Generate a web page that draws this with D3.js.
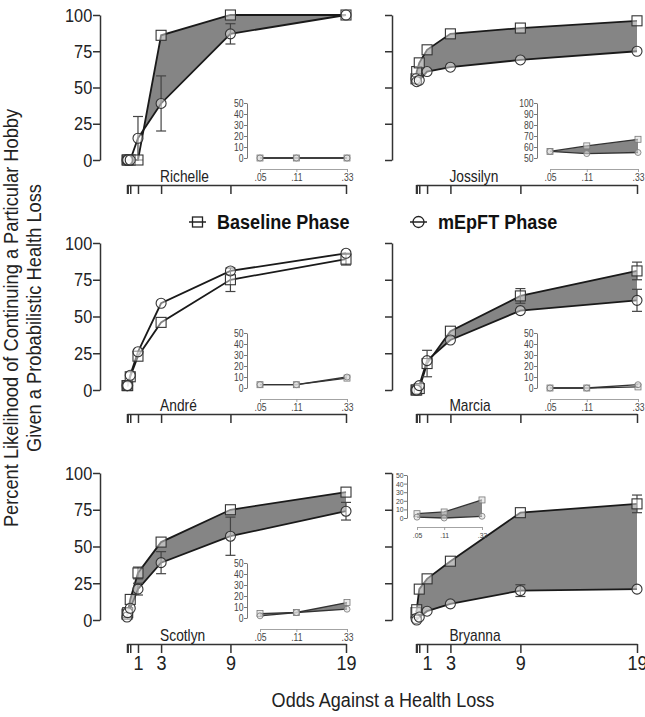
<!DOCTYPE html>
<html>
<head>
<meta charset="utf-8">
<script src="https://cdn.jsdelivr.net/npm/d3@7"></script>
<style>
  body { margin: 0; background: #fff; }
  svg { display: block; font-family: "Liberation Sans", Arial, Helvetica, sans-serif; }
</style>
</head>
<body>
<svg id="chart" width="645" height="717"></svg>
<script>
// odds against a health loss (x values)
const odds = [0.05, 0.11, 0.33, 1, 3, 9, 19]
const oddsTickLabels = ["1", "3", "9", "19"]
const insetOdds = [0.05, 0.11, 0.33]
const insetOddsLabels = [".05", ".11", ".33"]
const yTicks = [0, 25, 50, 75, 100]

const names = ["Richelle", "Jossilyn", "André", "Marcia", "Scotlyn", "Bryanna"]

// percent likelihood, baseline phase / mEpFT phase
const richelleBaseline = [0, 0, 0, 0, 86, 100, 100]
const richelleMepft    = [0, 0, 0, 15, 39, 87, 100]
const richelleBaseErr  = [0, 0, 0, 0, 0, 0, 0]
const richelleMepftErr = [0, 0, 0, 15, 19, 7, 0]

const jossilynBaseline = [56, 61, 67, 76, 87, 91, 96]
const jossilynMepft    = [56, 54, 55, 61, 64, 69, 75]
const jossilynBaseErr  = [0, 0, 0, 0, 0, 0, 0]
const jossilynMepftErr = [0, 0, 0, 0, 0, 0, 0]

const andreBaseline = [3, 3, 9, 23, 46, 75, 89]
const andreMepft    = [3, 3, 10, 26, 59, 81, 93]
const andreBaseErr  = [0, 0, 0, 0, 0, 8, 4]
const andreMepftErr = [0, 0, 0, 0, 0, 0, 0]

const marciaBaseline = [0, 0, 1, 18, 40, 64, 81]
const marciaMepft    = [0, 0, 3, 20, 34, 54, 61]
const marciaBaseErr  = [0, 0, 0, 9, 0, 5, 6]
const marciaMepftErr = [0, 0, 0, 0, 0, 0, 7.5]

const scotlynBaseline = [4, 5, 14, 32, 53, 75, 87]
const scotlynMepft    = [2, 5, 8, 21, 39, 57, 74]
const scotlynBaseErr  = [0, 0, 0, 4, 0, 0, 0]
const scotlynMepftErr = [0, 0, 0, 4, 7.5, 13, 6]

const bryannaBaseline = [5, 7, 21, 28, 40, 73, 79]
const bryannaMepft    = [1, 0, 2, 6, 11, 20, 21]
const bryannaBaseErr  = [0, 0, 0, 0, 0, 0, 6]
const bryannaMepftErr = [0, 0, 0, 0, 0, 4, 0]

const seriesData = [
    [richelleBaseline, richelleMepft, richelleBaseErr, richelleMepftErr],
    [jossilynBaseline, jossilynMepft, jossilynBaseErr, jossilynMepftErr],
    [andreBaseline, andreMepft, andreBaseErr, andreMepftErr],
    [marciaBaseline, marciaMepft, marciaBaseErr, marciaMepftErr],
    [scotlynBaseline, scotlynMepft, scotlynBaseErr, scotlynMepftErr],
    [bryannaBaseline, bryannaMepft, bryannaBaseErr, bryannaMepftErr]
]

// layout
const cols = [
    {axisX: 100, x0: 127, x1: 346, insetAxisX: 247, insetX0: 260, insetX1: 347},
    {axisX: 392, x0: 416, x1: 637, insetAxisX: 537, insetX0: 550, insetX1: 638}
]
const rows = [
    {top: 15, zero: 160, xAxisY: 185},
    {top: 243, zero: 390, xAxisY: 414},
    {top: 473, zero: 620, xAxisY: 644}
]

const svg = d3.select("#chart")
const fillGray = "#858585"
const ink = "#1a1a1a"
const squeeze = 0.86   // the original type is a condensed sans

// condensed text drawn at (x, y)
function label(parent, x, y, str, size, rotate = 0) {
    return parent.append("text")
        .attr("transform", `translate(${x},${y}) rotate(${rotate}) scale(${squeeze},1)`)
        .attr("font-size", size)
        .text(str)
}

function styleAxis(sel, fontSize) {
    sel.attr("font-family", null).attr("font-size", fontSize)
    sel.selectAll("path.domain").attr("stroke", "#333").attr("stroke-width", 1.5)
    sel.selectAll(".tick line").attr("stroke", "#333").attr("stroke-width", 1.5)
    sel.selectAll(".tick text").attr("fill", "#222").attr("transform", `scale(${squeeze},1)`)
}

function drawBand(g, xf, yf, pts, id, yLo, yHi) {
    // shade only where baseline lies above mEpFT
    g.append("clipPath").attr("id", id)
        .append("path")
        .attr("d", d3.area().x(d => xf(d.x)).y0(yLo).y1(d => yf(d.b))(pts))
    g.append("path")
        .attr("d", d3.area().x(d => xf(d.x)).y0(d => yf(d.m)).y1(yHi)(pts))
        .attr("fill", fillGray)
        .attr("clip-path", `url(#${id})`)
}

function drawPanel(i) {
    const col = cols[i % 2]
    const row = rows[Math.floor(i / 2)]
    const [base, mep, baseErr, mepErr] = seriesData[i]
    const g = svg.append("g")

    const x = d3.scaleLinear().domain([0.05, 19]).range([col.x0, col.x1])
    const y = d3.scaleLinear().domain([0, 100]).range([row.zero, row.top])

    // axes
    const yAxis = d3.axisLeft(y).tickValues(yTicks).tickSize(7).tickSizeOuter(0).tickPadding(2)
        .tickFormat(i % 2 === 0 ? d3.format("d") : "")
    g.append("g").attr("transform", `translate(${col.axisX},0)`).call(yAxis).call(styleAxis, 19)

    const bottomRow = Math.floor(i / 2) === 2
    const xAxis = d3.axisBottom(x).tickValues(odds).tickSize(9).tickSizeOuter(0).tickPadding(2)
        .tickFormat(d => bottomRow && oddsTickLabels.includes(String(d)) ? String(d) : "")
    g.append("g").attr("transform", `translate(0,${row.xAxisY})`).call(xAxis).call(styleAxis, 21)

    const pts = odds.map((o, k) => ({x: o, b: base[k], m: mep[k], be: baseErr[k], me: mepErr[k]}))

    drawBand(g, x, y, pts, "clip" + i, y(-50), y(150))

    const line = key => d3.line().x(d => x(d.x)).y(d => y(d[key]))
    g.append("path").attr("d", line("b")(pts)).attr("fill", "none").attr("stroke", ink).attr("stroke-width", 1.8)
    g.append("path").attr("d", line("m")(pts)).attr("fill", "none").attr("stroke", ink).attr("stroke-width", 1.8)

    // error bars
    const bars = []
    pts.forEach(d => {
        if (d.be > 0) bars.push({x: d.x, v: d.b, e: d.be})
        if (d.me > 0) bars.push({x: d.x, v: d.m, e: d.me})
    })
    const eb = g.append("g").attr("stroke", "#444").attr("stroke-width", 1.2)
    bars.forEach(d => {
        const cx = x(d.x)
        eb.append("line").attr("x1", cx).attr("x2", cx).attr("y1", y(d.v - d.e)).attr("y2", y(d.v + d.e))
        eb.append("line").attr("x1", cx - 5).attr("x2", cx + 5).attr("y1", y(d.v - d.e)).attr("y2", y(d.v - d.e))
        eb.append("line").attr("x1", cx - 5).attr("x2", cx + 5).attr("y1", y(d.v + d.e)).attr("y2", y(d.v + d.e))
    })

    // markers
    g.append("g").selectAll("rect").data(pts).enter().append("rect")
        .attr("x", d => x(d.x) - 5).attr("y", d => y(d.b) - 5)
        .attr("width", 10).attr("height", 10)
        .attr("fill", "#fff").attr("fill-opacity", 0.45)
        .attr("stroke", "#333").attr("stroke-width", 1.1)
    g.append("g").selectAll("circle").data(pts).enter().append("circle")
        .attr("cx", d => x(d.x)).attr("cy", d => y(d.m)).attr("r", 5)
        .attr("fill", "#fff").attr("fill-opacity", 0.45)
        .attr("stroke", "#333").attr("stroke-width", 1.1)

    // participant name
    label(g, x(3) - 1, row.xAxisY - 3, names[i], 16).attr("fill", "#222")

    // inset for the three smallest odds
    let inset
    if (i === 5) {
        inset = {axisX: 407, x0: 417, x1: 482, zero: 518, top: 475, axisY: 527, font: 8}
    } else {
        inset = {axisX: col.insetAxisX, x0: col.insetX0, x1: col.insetX1,
                 zero: row.zero - 2, top: row.zero - 57, axisY: row.zero + 9, font: 10}
    }
    drawInset(g, i, inset, pts.slice(0, 3), i === 1 ? [50, 100] : [0, 50])
}

function drawInset(g, i, s, pts, domain) {
    const x = d3.scaleLog().domain([0.05, 0.33]).range([s.x0, s.x1])
    const y = d3.scaleLinear().domain(domain).range([s.zero, s.top])

    const yAxis = d3.axisLeft(y).tickValues(d3.range(domain[0], domain[1] + 1, 10))
        .tickSize(3).tickSizeOuter(0).tickPadding(1).tickFormat(d3.format("d"))
    const ya = g.append("g").attr("transform", `translate(${s.axisX},0)`).call(yAxis)
    ya.attr("font-family", null).attr("font-size", s.font)
    ya.selectAll("path.domain, .tick line").attr("stroke", "#555").attr("stroke-width", 0.8)
    ya.selectAll(".tick text").attr("fill", "#444").attr("transform", `scale(${squeeze},1)`)

    const xAxis = d3.axisBottom(x).tickValues(insetOdds).tickSize(3).tickSizeOuter(0).tickPadding(2)
        .tickFormat((d, k) => insetOddsLabels[k])
    const xa = g.append("g").attr("transform", `translate(0,${s.axisY})`).call(xAxis)
    xa.attr("font-family", null).attr("font-size", s.font)
    xa.selectAll("path.domain, .tick line").attr("stroke", "#999").attr("stroke-width", 0.9)
    xa.selectAll(".tick text").attr("fill", "#444").attr("transform", `scale(${squeeze},1)`)

    drawBand(g, x, y, pts, "iclip" + i, y(domain[0] - 50), y(domain[1] + 50))

    const line = key => d3.line().x(d => x(d.x)).y(d => y(d[key]))
    g.append("path").attr("d", line("b")(pts)).attr("fill", "none").attr("stroke", "#333").attr("stroke-width", 1.3)
    g.append("path").attr("d", line("m")(pts)).attr("fill", "none").attr("stroke", "#333").attr("stroke-width", 1.3)

    g.append("g").selectAll("rect").data(pts).enter().append("rect")
        .attr("x", d => x(d.x) - 3).attr("y", d => y(d.b) - 3)
        .attr("width", 6).attr("height", 6)
        .attr("fill", "#ddd").attr("fill-opacity", 0.6)
        .attr("stroke", "#777").attr("stroke-width", 0.8)
    g.append("g").selectAll("circle").data(pts).enter().append("circle")
        .attr("cx", d => x(d.x)).attr("cy", d => y(d.m)).attr("r", 3)
        .attr("fill", "#ddd").attr("fill-opacity", 0.6)
        .attr("stroke", "#777").attr("stroke-width", 0.8)
}

names.forEach((n, i) => drawPanel(i))

// legend
const legend = svg.append("g").attr("font-weight", "bold").attr("fill", "#111")
const legendItems = [
    {label: "Baseline Phase", x: 189, shape: "square"},
    {label: "mEpFT Phase", x: 410, shape: "circle"}
]
legendItems.forEach(d => {
    const ly = 222
    legend.append("line").attr("x1", d.x).attr("x2", d.x + 17).attr("y1", ly).attr("y2", ly)
        .attr("stroke", "#222").attr("stroke-width", 1.5)
    if (d.shape === "square") {
        legend.append("rect").attr("x", d.x + 3.5).attr("y", ly - 5).attr("width", 10).attr("height", 10)
            .attr("fill", "none").attr("stroke", "#222").attr("stroke-width", 1.3)
    } else {
        legend.append("circle").attr("cx", d.x + 8.5).attr("cy", ly).attr("r", 5.5)
            .attr("fill", "none").attr("stroke", "#222").attr("stroke-width", 1.3)
    }
    label(legend, d.x + 28, ly + 7, d.label, 21)
})

// axis titles
label(svg, 383, 707, "Odds Against a Health Loss", 21)
    .attr("text-anchor", "middle").attr("fill", "#222")

const yTitle = svg.append("text")
    .attr("transform", `translate(18,318) rotate(-90) scale(${squeeze + 0.01},1)`)
    .attr("text-anchor", "middle").attr("font-size", 21).attr("fill", "#222")
yTitle.append("tspan").attr("x", 0).attr("dy", 0).text("Percent Likelihood of Continuing a Particular Hobby")
yTitle.append("tspan").attr("x", 0).attr("dy", 23).text("Given a Probabilistic Health Loss")
</script>
</body>
</html>
